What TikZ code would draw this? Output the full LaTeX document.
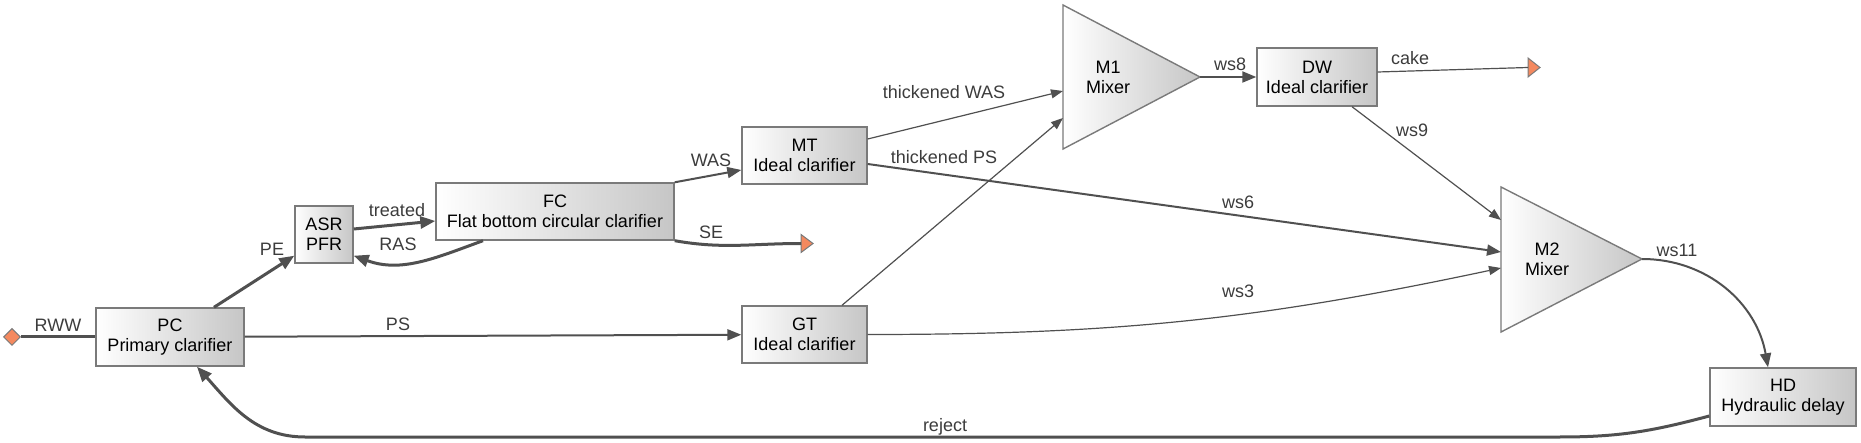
\documentclass[tikz,border=0pt]{standalone}
\usepackage{fontspec}
\setmainfont{Liberation Sans}
\usetikzlibrary{arrows.meta,shapes.geometric}
\definecolor{edgegray}{HTML}{505050}
\definecolor{boxline}{HTML}{7A7A7A}
\definecolor{boxdark}{HTML}{C6C6C6}
\definecolor{portorange}{HTML}{F4895F}
\definecolor{labelgray}{HTML}{3C3C3C}
\begin{document}
\begin{tikzpicture}[x=1pt,y=1pt,
    font=\fontsize{18}{20}\selectfont,
    unit/.style={draw=boxline, line width=1.4pt, left color=white, right color=boxdark, align=center, inner sep=0pt},
    mixer/.style={draw=boxline, line width=1.4pt, left color=white, right color=boxdark},
    port/.style={draw=boxline, line width=1pt, fill=portorange},
    flow/.style={color=edgegray, line width=3pt, >={Triangle[length=15pt,width=12pt]}},
    mflow/.style={color=edgegray, line width=2pt, >={Triangle[length=14pt,width=11pt]}},
    tflow/.style={color=edgegray, line width=1.2pt, >={Triangle[length=12pt,width=9pt]}},
    lbl/.style={text=labelgray, inner sep=0pt}]
  \useasboundingbox (0,0) rectangle (1861,442);
  % units
  \node[unit, minimum width=148pt, minimum height=58pt] (PC) at (170,105) {PC\\Primary clarifier};
  \node[unit, minimum width=58pt, minimum height=57pt] (ASR) at (324,207.5) {ASR\\PFR};
  \node[unit, minimum width=238pt, minimum height=57pt] (FC) at (555,230.5) {FC\\Flat bottom circular clarifier};
  \node[unit, minimum width=125pt, minimum height=57pt] (MT) at (804.5,286.5) {MT\\Ideal clarifier};
  \node[unit, minimum width=125pt, minimum height=57pt] (GT) at (804.5,107.5) {GT\\Ideal clarifier};
  \node[unit, minimum width=120pt, minimum height=58pt] (DW) at (1317,365) {DW\\Ideal clarifier};
  \node[unit, minimum width=146pt, minimum height=58pt] (HD) at (1783,45) {HD\\Hydraulic delay};
  % mixers
  \path[mixer] (1063,437) -- (1200,365) -- (1063,293) -- cycle;
  \path[mixer] (1501,255) -- (1642,183) -- (1501,110) -- cycle;
  \node[align=center] (M1) at (1108,365) {M1\\Mixer};
  \node[align=center] (M2) at (1547,183) {M2\\Mixer};
  \coordinate (M1tip) at (1200,365);
  \coordinate (M1a) at (1063,351);
  \coordinate (M1b) at (1063,324);
  \coordinate (M2tip) at (1642,183);
  \coordinate (M2a) at (1501,222);
  \coordinate (M2b) at (1501,190);
  \coordinate (M2c) at (1501,174);
  % influent and effluents
  \node[port, diamond, minimum size=17pt, inner sep=0pt] (RWW) at (12,105) {};
  \coordinate (SE) at (801,198.5);
  \coordinate (cake) at (1528,374.5);
  \path[port] (SE) ++(0,9) -- ++(12,-9) -- ++(-12,-9) -- cycle;
  \path[port] (cake) ++(0,9.5) -- ++(12,-9.5) -- ++(-12,-9.5) -- cycle;
  \coordinate (rj1) at (1560,5);
  \coordinate (rj2) at (305,5);
  % streams
  \draw[flow] (RWW) -- (PC);
  \draw[flow,->] ([xshift=44pt]PC.north) -- ([yshift=8pt]ASR.south west);
  \draw[flow,->] ([yshift=5.5pt]ASR.east) -- ([yshift=-9.5pt]FC.west);
  \draw[flow,->] ([xshift=-72pt]FC.south) to[out=200,in=-20] ([yshift=8pt]ASR.south east);
  \draw[mflow,->] (FC.north east) -- ([yshift=-14.5pt]MT.west);
  \draw[flow] (FC.south east) to[out=-10,in=180] (SE);
  \draw[mflow,->] (PC) -- (GT);
  \draw[tflow,->] ([yshift=16.5pt]MT.east) -- (M1a);
  \draw[mflow,->] ([yshift=-8.5pt]MT.east) -- (M2b);
  \draw[tflow,->] ([xshift=37.5pt]GT.north) -- (M1b);
  \draw[tflow,->] (GT.east) to[bend right=6] (M2c);
  \draw[mflow,->] (M1tip) -- (DW.west);
  \draw[tflow] ([yshift=5pt]DW.east) -- (cake);
  \draw[tflow,->] ([xshift=35pt]DW.south) -- (M2a);
  \draw[mflow,->] (M2tip) to[out=0,in=100] ([xshift=-15pt]HD.north);
  \draw[flow,->] ([yshift=-19pt]HD.west) to[out=195,in=0] (rj1) -- (rj2) to[out=180,in=-48] ([xshift=27pt]PC.south);
  % stream labels
  \node[lbl] (lRWW) at (58,117) {RWW};
  \node[lbl] (lPE) at (272,193) {PE};
  \node[lbl] (ltreated) at (397,232) {treated};
  \node[lbl] (lRAS) at (398,198) {RAS};
  \node[lbl] (lWAS) at (711,282) {WAS};
  \node[lbl] (lSE) at (711,210) {SE};
  \node[lbl] (lPS) at (398,118) {PS};
  \node[lbl] (ltWAS) at (944,350) {thickened WAS};
  \node[lbl] (ltPS) at (944,285) {thickened PS};
  \node[lbl] (lws6) at (1238,240) {ws6};
  \node[lbl] (lws3) at (1238,151) {ws3};
  \node[lbl] (lws8) at (1230,378) {ws8};
  \node[lbl] (lcake) at (1410,384) {cake};
  \node[lbl] (lws9) at (1412,312) {ws9};
  \node[lbl] (lws11) at (1677,192) {ws11};
  \node[lbl] (lreject) at (945,15) {reject};
\end{tikzpicture}
\end{document}
